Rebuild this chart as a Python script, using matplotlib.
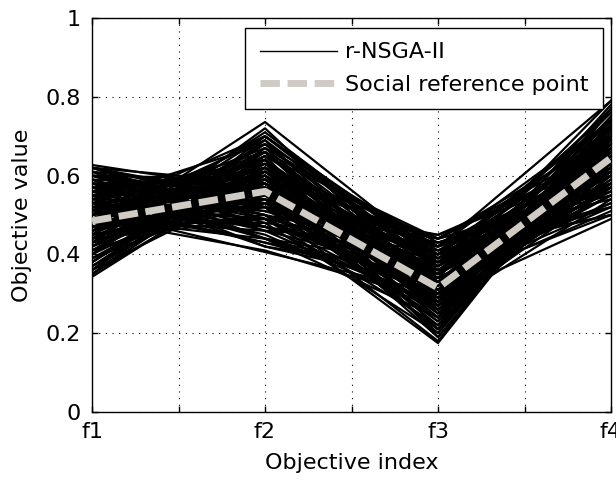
import matplotlib
matplotlib.use("Agg")
import matplotlib.pyplot as plt

# Objective values of r-NSGA-II solutions (one entry per solution)
f1 = [0.627, 0.45, 0.343, 0.51, 0.45, 0.48, 0.58, 0.60, 0.40, 0.36,
      0.62, 0.55, 0.50, 0.44, 0.53, 0.57, 0.39, 0.46, 0.52, 0.61,
      0.37, 0.49, 0.42, 0.56, 0.47, 0.59, 0.35, 0.43, 0.54, 0.48,
      0.62, 0.41, 0.51, 0.44, 0.57, 0.38, 0.53, 0.60, 0.46, 0.50,
      0.42, 0.58, 0.55, 0.39, 0.47, 0.62, 0.45, 0.52, 0.36, 0.57,
      0.49, 0.43, 0.54, 0.40, 0.61, 0.46, 0.50, 0.56, 0.37, 0.52,
      0.59, 0.44, 0.48, 0.53, 0.41, 0.58, 0.49, 0.35, 0.62, 0.45,
      0.51, 0.56, 0.38, 0.60, 0.47, 0.54, 0.43, 0.50, 0.57, 0.41,
      0.60, 0.52, 0.46, 0.40, 0.55, 0.49, 0.58, 0.44, 0.62, 0.38,
      0.51, 0.47, 0.56, 0.42, 0.53, 0.35, 0.61, 0.48, 0.45, 0.57,
      0.50, 0.39, 0.54, 0.59, 0.43, 0.52, 0.46, 0.60, 0.37, 0.55,
      0.49, 0.41, 0.58, 0.44, 0.53, 0.62, 0.48, 0.51, 0.36, 0.56]
f2 = [0.56, 0.736, 0.62, 0.406, 0.50, 0.62, 0.44, 0.52, 0.68, 0.65,
      0.47, 0.58, 0.55, 0.60, 0.49, 0.53, 0.63, 0.70, 0.43, 0.50,
      0.66, 0.64, 0.58, 0.46, 0.53, 0.57, 0.61, 0.71, 0.62, 0.48,
      0.52, 0.56, 0.60, 0.66, 0.42, 0.69, 0.56, 0.46, 0.57, 0.67,
      0.64, 0.49, 0.51, 0.59, 0.62, 0.54, 0.52, 0.64, 0.70, 0.61,
      0.41, 0.55, 0.47, 0.72, 0.44, 0.59, 0.58, 0.63, 0.60, 0.52,
      0.48, 0.68, 0.56, 0.66, 0.62, 0.59, 0.46, 0.64, 0.58, 0.54,
      0.70, 0.44, 0.67, 0.55, 0.49, 0.53, 0.61, 0.60, 0.50, 0.53,
      0.50, 0.57, 0.63, 0.61, 0.45, 0.69, 0.55, 0.57, 0.53, 0.65,
      0.47, 0.58, 0.60, 0.70, 0.43, 0.67, 0.56, 0.52, 0.65, 0.47,
      0.62, 0.56, 0.68, 0.42, 0.59, 0.49, 0.54, 0.59, 0.62, 0.64,
      0.44, 0.66, 0.52, 0.49, 0.58, 0.49, 0.66, 0.54, 0.58, 0.51]
f3 = [0.44, 0.39, 0.30, 0.30, 0.175, 0.42, 0.29, 0.449, 0.35, 0.21,
      0.36, 0.33, 0.25, 0.28, 0.22, 0.38, 0.40, 0.37, 0.31, 0.41,
      0.33, 0.30, 0.24, 0.27, 0.34, 0.39, 0.26, 0.38, 0.44, 0.20,
      0.35, 0.29, 0.36, 0.43, 0.32, 0.27, 0.23, 0.43, 0.32, 0.41,
      0.19, 0.26, 0.37, 0.31, 0.25, 0.40, 0.36, 0.34, 0.36, 0.42,
      0.28, 0.21, 0.39, 0.31, 0.33, 0.44, 0.28, 0.37, 0.24, 0.18,
      0.42, 0.33, 0.40, 0.29, 0.37, 0.31, 0.35, 0.29, 0.38, 0.23,
      0.39, 0.24, 0.42, 0.27, 0.30, 0.45, 0.34, 0.20, 0.34, 0.26,
      0.30, 0.35, 0.28, 0.33, 0.26, 0.36, 0.41, 0.22, 0.43, 0.38,
      0.27, 0.19, 0.33, 0.40, 0.34, 0.31, 0.36, 0.24, 0.44, 0.38,
      0.27, 0.21, 0.42, 0.35, 0.30, 0.40, 0.33, 0.28, 0.35, 0.25,
      0.37, 0.26, 0.44, 0.29, 0.38, 0.31, 0.32, 0.21, 0.27, 0.42]
f4 = [0.55, 0.58, 0.70, 0.62, 0.73, 0.79, 0.49, 0.62, 0.63, 0.74,
      0.56, 0.66, 0.70, 0.64, 0.68, 0.57, 0.72, 0.60, 0.55, 0.50,
      0.69, 0.75, 0.66, 0.60, 0.53, 0.65, 0.61, 0.52, 0.57, 0.71,
      0.58, 0.78, 0.62, 0.58, 0.51, 0.67, 0.72, 0.54, 0.76, 0.64,
      0.72, 0.63, 0.70, 0.57, 0.60, 0.69, 0.66, 0.55, 0.61, 0.74,
      0.66, 0.69, 0.61, 0.68, 0.52, 0.68, 0.73, 0.63, 0.70, 0.74,
      0.58, 0.55, 0.50, 0.67, 0.74, 0.59, 0.72, 0.65, 0.61, 0.62,
      0.70, 0.67, 0.63, 0.77, 0.59, 0.64, 0.79, 0.73, 0.56, 0.54,
      0.66, 0.69, 0.71, 0.63, 0.57, 0.66, 0.60, 0.75, 0.56, 0.60,
      0.64, 0.70, 0.72, 0.61, 0.58, 0.74, 0.53, 0.68, 0.66, 0.69,
      0.58, 0.66, 0.67, 0.62, 0.72, 0.74, 0.50, 0.70, 0.77, 0.65,
      0.60, 0.69, 0.70, 0.63, 0.76, 0.64, 0.57, 0.77, 0.58, 0.52]

# Social reference point
ref_point = [0.485, 0.56, 0.315, 0.645]

objective_labels = ["f1", "f2", "f3", "f4"]
objective_pos = [1, 2, 3, 4]

plt.rcParams['font.family'] = ['DejaVu Sans']

fig = plt.figure(figsize=(6.16, 4.80), dpi=100)
ax = fig.add_axes([92/616, 68/480, 519/616, 394/480])

for i in range(len(f1)):
    ax.plot(objective_pos, [f1[i], f2[i], f3[i], f4[i]], color='black', lw=1.6,
            label='r-NSGA-II' if i == 0 else None, zorder=2)

ax.plot(objective_pos, ref_point, color='#d0ccc5', lw=5,
        linestyle=(0, (2.8, 1.1)), dash_capstyle='butt',
        label='Social reference point', zorder=3)

ax.set_xlim(1, 4)
ax.set_ylim(0, 1)
xt = [1, 1.5, 2, 2.5, 3, 3.5, 4]
ax.set_xticks(xt)
ax.set_xticklabels([objective_labels[0], '', objective_labels[1], '',
                    objective_labels[2], '', objective_labels[3]])
ax.set_yticks([0, 0.2, 0.4, 0.6, 0.8, 1])
ax.set_yticklabels(['0', '0.2', '0.4', '0.6', '0.8', '1'])

ax.tick_params(direction='in', length=4, width=1, top=True, right=True,
               labelsize=16, colors='black')
ax.tick_params(axis='y', pad=8)
ax.tick_params(axis='x', pad=7)
ax.grid(True, color='black', linestyle=(0, (1, 5)), lw=0.8, zorder=1)
for s in ax.spines.values():
    s.set_linewidth(1.0)

ax.set_xlabel('Objective index', fontsize=16, labelpad=8)
ax.set_ylabel('Objective value', fontsize=16, labelpad=10)

leg = ax.legend(loc='upper right', bbox_to_anchor=(0.985, 0.975),
                borderaxespad=0, fontsize=16, handlelength=3.5,
                handletextpad=0.35, borderpad=0.65, labelspacing=0.55,
                fancybox=False, framealpha=1, edgecolor='black')
leg.get_frame().set_linewidth(1.0)
leg.set_zorder(5)
for h in leg.get_lines():
    if h.get_color() == 'black':
        h.set_linewidth(1.0)

fig.savefig('out.png', dpi=100)
